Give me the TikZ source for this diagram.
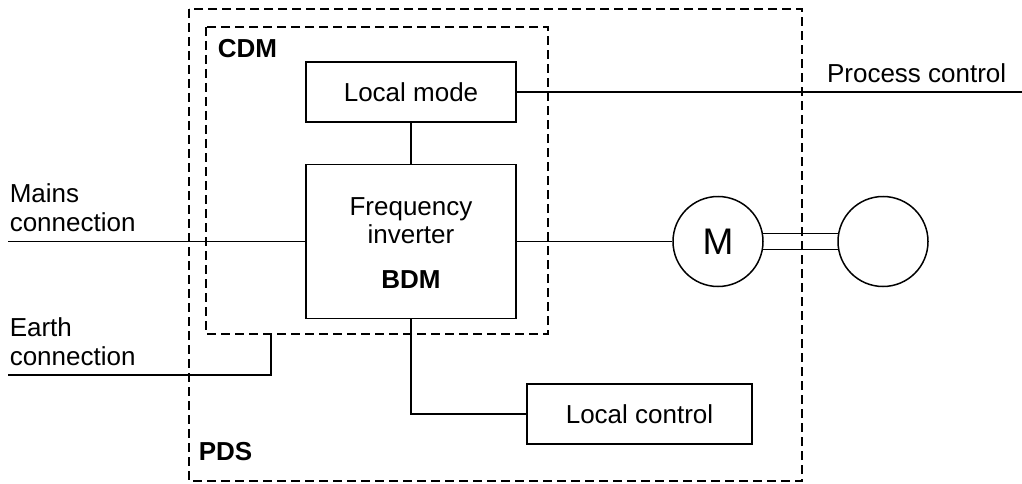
\documentclass[tikz,border=0pt]{standalone}
\usepackage{fontspec}
\setmainfont{Liberation Sans}
\begin{document}
\begin{tikzpicture}[x=1pt,y=-1pt,
  font=\fontsize{26}{29}\selectfont,
  line width=1.5pt,
  unit/.style={draw, rectangle, inner sep=0pt},
  dashbox/.style={draw, dash pattern=on 9pt off 5pt, line width=1.3pt},
  txt/.style={inner sep=0pt, anchor=base}]
\useasboundingbox (0,0) rectangle (1022,484);

% drive system boundaries
\draw[dashbox] (189,9) rectangle (802,481);
\draw[dashbox] (206,27) rectangle (548,334);
\node[txt, anchor=base west, font=\fontsize{26}{29}\selectfont\bfseries] (cdm) at (217,58) {CDM};
\node[txt, anchor=base west, font=\fontsize{26}{29}\selectfont\bfseries] (pds) at (198,460) {PDS};

\node[unit, minimum width=210pt, minimum height=60pt] (mode) at (411,92) {Local mode};
\node[unit, minimum width=210pt, minimum height=154pt] (inv) at (411,241.5) {};
\node[txt] (freq) at (411,215) {Frequency};
\node[txt] (invname) at (411,243) {inverter};
\node[txt, font=\fontsize{26}{29}\selectfont\bfseries] (bdm) at (411,288) {BDM};
\node[unit, minimum width=225pt, minimum height=60pt] (ctrl) at (639.5,414) {Local control};

\node[draw, circle, minimum size=90pt, inner sep=0pt, font=\fontsize{37}{40}\selectfont] (motor) at (718,241.5) {M};
\node[draw, circle, minimum size=90pt, inner sep=0pt] (load) at (883,241.5) {};

\coordinate (mainsend) at (8,241.5);
\coordinate (earthend) at (8,375);
\coordinate (cdmbot) at (271,334);
\coordinate (procend) at (1022,92);

\node[txt, anchor=base west] (mains) at (9,202) {Mains};
\node[txt, anchor=base west] (mainsconn) at (9,231) {connection};
\node[txt, anchor=base west] (earth) at (9,336) {Earth};
\node[txt, anchor=base west] (earthconn) at (9,365) {connection};
\node[txt, anchor=base east] (proc) at (1007,83) {Process control};

\draw (mode.east) -- (procend);
\draw (mode) -- (inv);
\draw (mainsend) -- (inv.west);
\draw (earthend) -| (cdmbot);
\draw (inv.east) -- (motor.west);
\draw (inv.south) |- (ctrl.west);
\draw (motor.10) -- (load.170);
\draw (motor.-10) -- (load.-170);
\end{tikzpicture}
\end{document}
